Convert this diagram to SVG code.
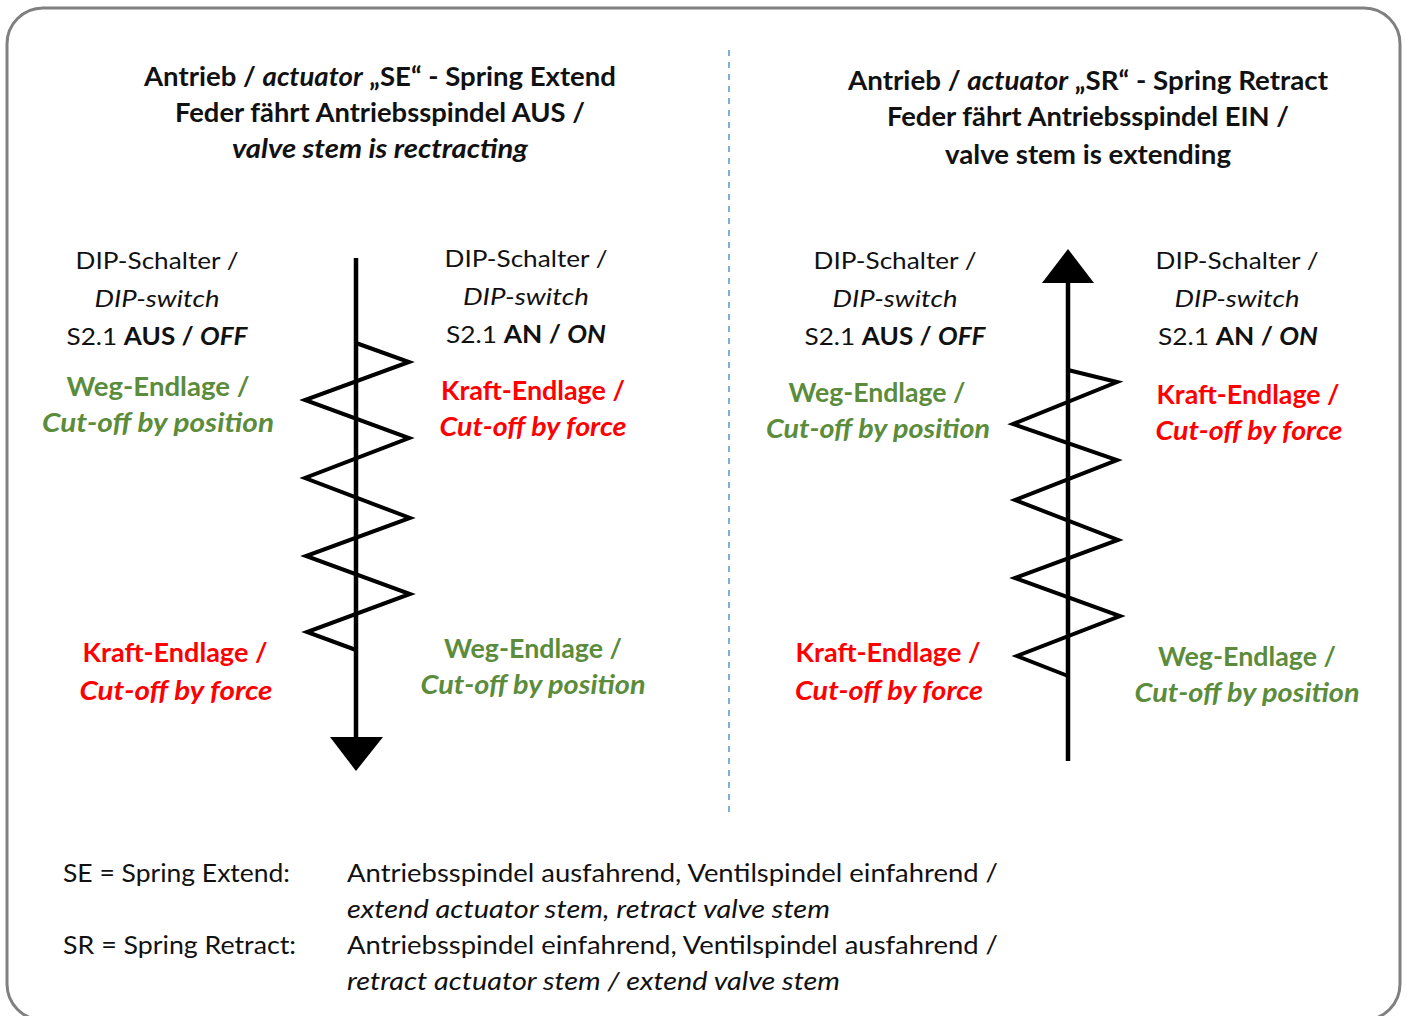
<svg xmlns="http://www.w3.org/2000/svg" width="1407" height="1016" viewBox="0 0 1407 1016">
<style>
text{font-family:Lato,"Open Sans","Liberation Sans",sans-serif;fill:#111}
.t{font-size:26px;font-weight:bold;text-anchor:middle}
.d{font-size:24px;text-anchor:middle}
.g{fill:#5b8c3b;font-size:26px;font-weight:bold;text-anchor:middle}
.r{fill:#ff0000;font-size:26px;font-weight:bold;text-anchor:middle}
.l{font-size:25px}
.i{font-style:italic}
.b{font-weight:bold}
.sp{fill:none;stroke:#000;stroke-width:4;stroke-linejoin:miter}
.ax{stroke:#000;stroke-width:4.5}
</style>
<rect x="7" y="8" width="1393" height="1012" rx="36" ry="36" fill="#fff" stroke="#808080" stroke-width="3"/>
<g id="divider"><line x1="729" y1="50" x2="729" y2="812" stroke="#5b9bd5" stroke-width="1.6" stroke-dasharray="6 6"/></g>

<g id="title-se">
<text class="t" x="380" y="86" textLength="472" lengthAdjust="spacingAndGlyphs">Antrieb / <tspan class="i">actuator</tspan> „SE“ - Spring Extend</text>
<text class="t" x="380" y="122" textLength="410" lengthAdjust="spacingAndGlyphs">Feder fährt Antriebsspindel AUS /</text>
<text class="t i" x="380" y="158" textLength="296" lengthAdjust="spacingAndGlyphs">valve stem is rectracting</text>
</g>
<g id="title-sr">
<text class="t" x="1088" y="90" textLength="480" lengthAdjust="spacingAndGlyphs">Antrieb / <tspan class="i">actuator</tspan> „SR“ - Spring Retract</text>
<text class="t" x="1088" y="126" textLength="402" lengthAdjust="spacingAndGlyphs">Feder fährt Antriebsspindel EIN /</text>
<text class="t" x="1088" y="164" textLength="286" lengthAdjust="spacingAndGlyphs">valve stem is extending</text>
</g>

<g id="spring-se">
<line class="ax" x1="356" y1="258" x2="356" y2="740"/>
<polygon points="330,737 383,737 356,771" fill="#000"/>
<polyline class="sp" points="356,343 409,362 305,400 409,438 305,478 410,518 306,556 410,594 307,632 356,650"/>
</g>
<g id="spring-sr">
<line class="ax" x1="1068" y1="280" x2="1068" y2="761"/>
<polygon points="1042,283 1094,283 1068,249" fill="#000"/>
<polyline class="sp" points="1068,370 1117,382 1013,424 1117,460 1015,500 1118,540 1015,578 1120,616 1017,656 1068,676"/>
</g>

<g id="dip-se-off">
<text class="d" x="157" y="269" textLength="163" lengthAdjust="spacingAndGlyphs">DIP-Schalter /</text>
<text class="d i" x="157" y="307" textLength="125" lengthAdjust="spacingAndGlyphs">DIP-switch</text>
<text class="d" x="157" y="345" textLength="181" lengthAdjust="spacingAndGlyphs">S2.1 <tspan class="b">AUS / </tspan><tspan class="b i">OFF</tspan></text>
</g>
<g id="se-off-top">
<text class="g" x="158" y="396" textLength="183" lengthAdjust="spacingAndGlyphs">Weg-Endlage /</text>
<text class="g i" x="158" y="432" textLength="232" lengthAdjust="spacingAndGlyphs">Cut-off by position</text>
</g>
<g id="se-off-bottom">
<text class="r" x="175" y="662" textLength="185" lengthAdjust="spacingAndGlyphs">Kraft-Endlage /</text>
<text class="r i" x="176" y="700" textLength="193" lengthAdjust="spacingAndGlyphs">Cut-off by force</text>
</g>

<g id="dip-se-on">
<text class="d" x="526" y="267" textLength="163" lengthAdjust="spacingAndGlyphs">DIP-Schalter /</text>
<text class="d i" x="526" y="305" textLength="126" lengthAdjust="spacingAndGlyphs">DIP-switch</text>
<text class="d" x="526" y="343" textLength="160" lengthAdjust="spacingAndGlyphs">S2.1 <tspan class="b">AN / </tspan><tspan class="b i">ON</tspan></text>
</g>
<g id="se-on-top">
<text class="r" x="533" y="400" textLength="184" lengthAdjust="spacingAndGlyphs">Kraft-Endlage /</text>
<text class="r i" x="533" y="436" textLength="187" lengthAdjust="spacingAndGlyphs">Cut-off by force</text>
</g>
<g id="se-on-bottom">
<text class="g" x="533" y="658" textLength="178" lengthAdjust="spacingAndGlyphs">Weg-Endlage /</text>
<text class="g i" x="533" y="694" textLength="225" lengthAdjust="spacingAndGlyphs">Cut-off by position</text>
</g>

<g id="dip-sr-off">
<text class="d" x="895" y="269" textLength="163" lengthAdjust="spacingAndGlyphs">DIP-Schalter /</text>
<text class="d i" x="895" y="307" textLength="125" lengthAdjust="spacingAndGlyphs">DIP-switch</text>
<text class="d" x="895" y="345" textLength="181" lengthAdjust="spacingAndGlyphs">S2.1 <tspan class="b">AUS / </tspan><tspan class="b i">OFF</tspan></text>
</g>
<g id="sr-off-top">
<text class="g" x="877" y="402" textLength="177" lengthAdjust="spacingAndGlyphs">Weg-Endlage /</text>
<text class="g i" x="878" y="438" textLength="224" lengthAdjust="spacingAndGlyphs">Cut-off by position</text>
</g>
<g id="sr-off-bottom">
<text class="r" x="888" y="662" textLength="185" lengthAdjust="spacingAndGlyphs">Kraft-Endlage /</text>
<text class="r i" x="889" y="700" textLength="188" lengthAdjust="spacingAndGlyphs">Cut-off by force</text>
</g>

<g id="dip-sr-on">
<text class="d" x="1237" y="269" textLength="163" lengthAdjust="spacingAndGlyphs">DIP-Schalter /</text>
<text class="d i" x="1237" y="307" textLength="125" lengthAdjust="spacingAndGlyphs">DIP-switch</text>
<text class="d" x="1238" y="345" textLength="160" lengthAdjust="spacingAndGlyphs">S2.1 <tspan class="b">AN / </tspan><tspan class="b i">ON</tspan></text>
</g>
<g id="sr-on-top">
<text class="r" x="1248" y="404" textLength="183" lengthAdjust="spacingAndGlyphs">Kraft-Endlage /</text>
<text class="r i" x="1249" y="440" textLength="187" lengthAdjust="spacingAndGlyphs">Cut-off by force</text>
</g>
<g id="sr-on-bottom">
<text class="g" x="1247" y="666" textLength="178" lengthAdjust="spacingAndGlyphs">Weg-Endlage /</text>
<text class="g i" x="1247" y="702" textLength="225" lengthAdjust="spacingAndGlyphs">Cut-off by position</text>
</g>

<g id="legend">
<text class="l" x="63" y="882" textLength="227" lengthAdjust="spacingAndGlyphs">SE = Spring Extend:</text>
<text class="l" x="347" y="882" textLength="651" lengthAdjust="spacingAndGlyphs">Antriebsspindel ausfahrend, Ventilspindel einfahrend /</text>
<text class="l i" x="347" y="918" textLength="483" lengthAdjust="spacingAndGlyphs">extend actuator stem, retract valve stem</text>
<text class="l" x="63" y="954" textLength="233" lengthAdjust="spacingAndGlyphs">SR = Spring Retract:</text>
<text class="l" x="347" y="954" textLength="651" lengthAdjust="spacingAndGlyphs">Antriebsspindel einfahrend, Ventilspindel ausfahrend /</text>
<text class="l i" x="347" y="990" textLength="493" lengthAdjust="spacingAndGlyphs">retract actuator stem / extend valve stem</text>
</g>
</svg>
